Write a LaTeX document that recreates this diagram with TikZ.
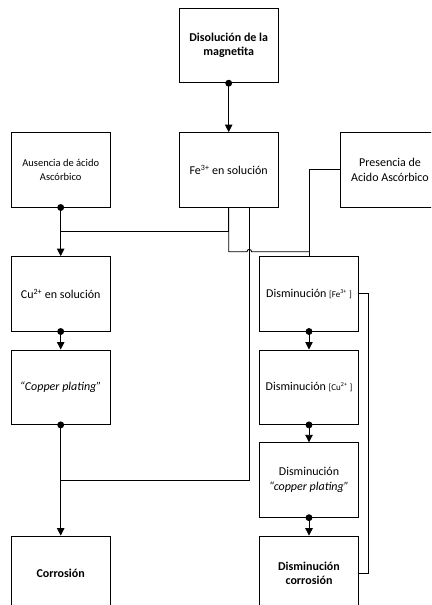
\documentclass[tikz,border=0pt]{standalone}
\usepackage{fontspec}
\setmainfont{Carlito}
\usetikzlibrary{arrows.meta}

\tikzset{
    box/.style = {draw, line width = 0.9pt, minimum width = 99pt,
        minimum height = 74.5pt, align = center,
        font = \fontsize{12}{14.5}\selectfont},
    boldbox/.style = {box, font = \fontsize{12}{14.5}\selectfont\bfseries},
    flow/.style = {line width = 0.9pt,
        {Circle[length = 6.8pt]}-{Triangle[width = 7.5pt, length = 7.5pt]},
        shorten <= -3.4pt},
    wire/.style = {line width = 0.9pt}
}

\begin{document}
\begin{tikzpicture}[x = 1pt, y = -1pt]
        \useasboundingbox (0, 0) rectangle (431, 605);
        \clip (0, 0) rectangle (431, 605);
        \node[boldbox] at (228.7, 45.5) (magnetita) {Disolución de la\\magnetita};
        \node[box] at (228.7, 169.8) (fe_sol) {Fe\textsuperscript{3+} en solución};
        \node[box, font = \fontsize{10.5}{13.5}\selectfont]
            at (60.7, 169.8) (ausencia) {Ausencia de ácido\\Ascórbico};
        \node[box] at (390, 169.8) (presencia) {Presencia de\\Acido Ascórbico};
        \node[box] at (60.7, 293.8) (cu_sol) {Cu\textsuperscript{2+} en solución};
        \node[box] at (60.7, 387.2) (plating) {\textit{“Copper plating”}};
        \node[boldbox] at (60.7, 573.3) (corrosion) {Corrosión};
        \node[box] at (309, 293.8) (dism_fe)
            {Disminución {\fontsize{9}{11}\selectfont[Fe\textsuperscript{3+} ]}};
        \node[box] at (309, 387.2) (dism_cu)
            {Disminución {\fontsize{9}{11}\selectfont[Cu\textsuperscript{2+} ]}};
        \node[box] at (309, 480) (dism_plating)
            {Disminución\\\textit{“copper plating”}};
        \node[boldbox] at (309, 573.3) (dism_corrosion) {Disminución\\corrosión};
        \coordinate (fe_left) at (60.7, 231);
        \coordinate (hop) at (249.3, 251.7);
        \coordinate (fe_down) at (249.3, 480);
        \draw[flow] (magnetita.south) -- (fe_sol.north);
        \draw[flow] (ausencia.south) -- (cu_sol.north);
        \draw[flow] (cu_sol.south) -- (plating.north);
        \draw[flow] (plating.south) -- (corrosion.north);
        \draw[flow] (dism_fe.south) -- (dism_cu.north);
        \draw[flow] (dism_cu.south) -- (dism_plating.north);
        \draw[flow] (dism_plating.south) -- (dism_corrosion.north);
        \draw[wire] (fe_sol.south) |- (fe_left);
        \draw[wire] (fe_sol.south) -- (fe_sol.south |- hop)
            -- ([xshift = -2.3pt] hop) arc[start angle = 180, end angle = 0, radius = 2.3pt]
            -- (dism_fe.north |- hop);
        \draw[wire] (fe_sol.south -| hop) -- (fe_down) -- (plating.south |- fe_down);
        \draw[wire] (presencia.west) -| (dism_fe.north);
        \draw[wire] (dism_fe.east) -- ++(9.6, 0) |- (dism_corrosion.east);
    \end{tikzpicture}
\end{document}
